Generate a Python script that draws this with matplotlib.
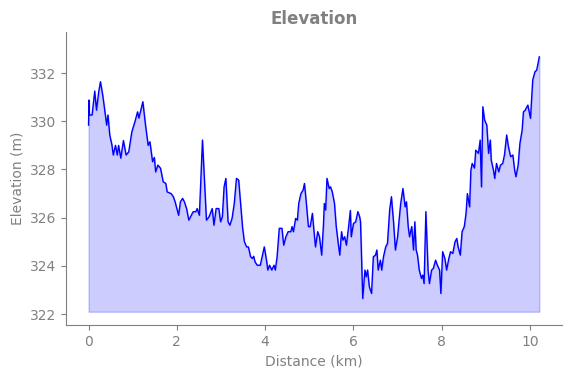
import matplotlib
matplotlib.use("Agg")
import matplotlib.pyplot as plt

# distance along the track (km) and elevation (m)
distance_km = [
    0.00, 0.01, 0.02, 0.08, 0.14, 0.18, 0.23, 0.27, 0.32, 0.36, 0.41, 0.44, 0.48, 0.53, 0.56,
    0.61, 0.65, 0.68, 0.73, 0.79, 0.85, 0.91, 0.98, 1.05, 1.11, 1.14, 1.23, 1.29, 1.35, 1.39,
    1.45, 1.49, 1.52, 1.57, 1.63, 1.69, 1.75, 1.78, 1.87, 1.92, 1.96, 1.99, 2.04, 2.08, 2.13,
    2.17, 2.22, 2.27, 2.31, 2.37, 2.43, 2.46, 2.51, 2.58, 2.67, 2.73, 2.80, 2.84, 2.89, 2.95,
    2.99, 3.03, 3.07, 3.11, 3.16, 3.20, 3.25, 3.30, 3.35, 3.40, 3.44, 3.49, 3.53, 3.58, 3.62,
    3.67, 3.71, 3.74, 3.77, 3.82, 3.89, 3.94, 3.98, 4.03, 4.06, 4.10, 4.15, 4.20, 4.23, 4.27,
    4.32, 4.38, 4.42, 4.47, 4.52, 4.58, 4.61, 4.64, 4.69, 4.73, 4.76, 4.81, 4.86, 4.89, 4.93,
    4.98, 5.02, 5.07, 5.10, 5.14, 5.19, 5.23, 5.28, 5.32, 5.34, 5.37, 5.40, 5.45, 5.48, 5.52,
    5.57, 5.61, 5.66, 5.69, 5.73, 5.76, 5.80, 5.84, 5.89, 5.93, 5.95, 6.00, 6.05, 6.10, 6.14,
    6.16, 6.21, 6.26, 6.29, 6.32, 6.36, 6.41, 6.45, 6.50, 6.53, 6.56, 6.61, 6.64, 6.68, 6.73,
    6.77, 6.82, 6.86, 6.91, 6.95, 7.00, 7.03, 7.07, 7.12, 7.17, 7.20, 7.24, 7.27, 7.32, 7.36,
    7.39, 7.42, 7.45, 7.49, 7.54, 7.57, 7.60, 7.64, 7.69, 7.72, 7.77, 7.81, 7.86, 7.90, 7.95,
    7.98, 8.02, 8.07, 8.11, 8.16, 8.20, 8.25, 8.30, 8.34, 8.37, 8.42, 8.46, 8.51, 8.55, 8.58,
    8.63, 8.66, 8.69, 8.74, 8.77, 8.83, 8.87, 8.90, 8.93, 8.97, 9.02, 9.06, 9.10, 9.12, 9.17,
    9.20, 9.24, 9.29, 9.33, 9.38, 9.42, 9.47, 9.51, 9.56, 9.61, 9.65, 9.68, 9.73, 9.77, 9.82,
    9.85, 9.89, 9.95, 10.01, 10.06, 10.11, 10.15, 10.18, 10.21,
]
elevation_m = [
    329.84, 330.88, 330.26, 330.26, 331.25, 330.46, 331.22, 331.64, 331.09, 330.55, 329.84, 330.26, 329.43, 329.01, 328.60,
    329.00, 328.60, 329.00, 328.47, 329.20, 328.60, 328.73, 329.56, 329.98, 330.39, 330.13, 330.81, 329.84, 329.00, 329.15,
    328.32, 328.50, 327.90, 328.18, 328.05, 327.49, 327.42, 327.07, 327.00, 326.87, 326.66, 326.45, 326.10, 326.66, 326.80,
    326.66, 326.38, 325.90, 326.04, 326.25, 326.25, 326.38, 326.10, 329.22, 325.90, 326.04, 326.38, 325.69, 326.38, 326.38,
    325.83, 326.04, 327.28, 327.63, 325.83, 325.69, 325.97, 326.59, 327.63, 327.56, 326.66, 325.56, 325.00, 324.79, 324.79,
    324.38, 324.31, 324.40, 324.17, 324.03, 324.03, 324.45, 324.79, 324.24, 323.83, 324.03, 323.83, 324.03, 323.83, 324.38,
    325.56, 325.56, 324.86, 325.21, 325.42, 325.42, 325.63, 325.42, 325.97, 325.90, 326.59, 327.00, 327.15, 327.42, 326.66,
    325.63, 325.63, 326.18, 325.56, 324.79, 325.42, 325.21, 324.45, 325.69, 326.59, 326.32, 327.63, 327.21, 327.28, 327.07,
    326.59, 325.63, 324.86, 324.45, 325.42, 325.07, 325.21, 324.86, 325.63, 326.30, 325.21, 325.76, 325.83, 326.25, 326.04,
    325.83, 322.65, 323.83, 323.55, 323.83, 323.13, 322.86, 324.38, 324.45, 324.66, 323.83, 324.24, 323.83, 324.38, 324.79,
    324.93, 326.32, 326.87, 325.76, 324.66, 325.21, 325.83, 326.59, 327.21, 326.45, 326.66, 325.63, 325.21, 325.63, 324.66,
    325.83, 324.66, 324.45, 323.83, 323.48, 323.62, 323.27, 326.25, 323.83, 323.27, 323.83, 323.90, 324.24, 324.03, 323.83,
    322.86, 324.59, 324.31, 323.83, 324.31, 324.59, 324.52, 325.00, 325.14, 324.79, 324.45, 325.42, 325.63, 326.18, 327.00,
    326.45, 327.98, 328.25, 328.06, 328.80, 328.67, 329.22, 327.28, 330.60, 330.05, 329.84, 328.67, 329.22, 328.39, 327.98,
    327.63, 328.25, 327.90, 328.18, 328.25, 328.60, 329.43, 328.94, 328.53, 328.60, 327.98, 327.70, 328.18, 329.08, 329.63,
    330.39, 330.46, 330.67, 330.12, 331.71, 332.05, 332.12, 332.40, 332.67,
]
base_m = 322.1

gray = "#808080"

fig = plt.figure(figsize=(5.71, 3.78), dpi=100)
ax = fig.add_axes([0.1156, 0.1402, 0.8684, 0.7751])

ax.fill_between(distance_km, elevation_m, base_m, color="blue", alpha=0.2)
ax.plot(distance_km, elevation_m, color="blue", linewidth=1)

ax.set_ylim(321.55, 333.7)
ax.set_xticks([0, 2, 4, 6, 8, 10])
ax.set_yticks([322, 324, 326, 328, 330, 332])

ax.set_title("Elevation", color=gray, fontweight="bold", fontsize=12)
ax.set_xlabel("Distance (km)", color=gray)
ax.set_ylabel("Elevation (m)", color=gray)

for side in ["top", "right"]:
    ax.spines[side].set_visible(False)
for side in ["left", "bottom"]:
    ax.spines[side].set_color(gray)
ax.tick_params(colors=gray)

fig.savefig("out.png", dpi=100)
